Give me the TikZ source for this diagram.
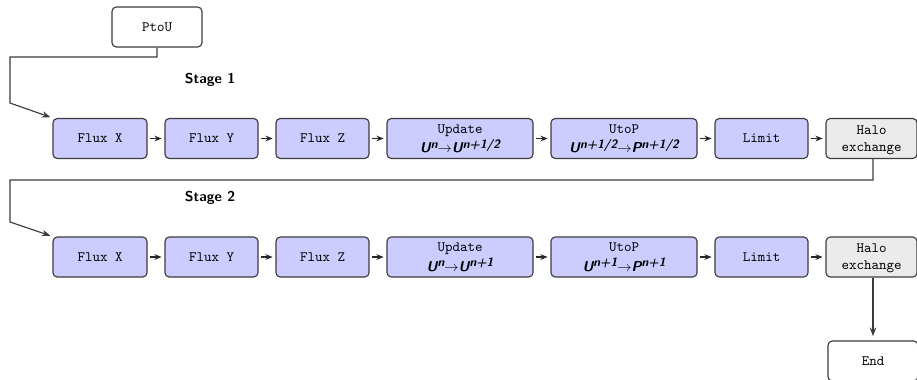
\documentclass[tikz,border=0pt]{standalone}
\usepackage{fontspec}
\usetikzlibrary{arrows.meta,positioning}
\definecolor{boxblue}{RGB}{204,204,255}
\definecolor{boxgray}{RGB}{235,235,235}
\definecolor{edgegray}{RGB}{60,60,60}
\newcommand\mv[1]{{\sffamily\bfseries\slshape #1}}
\newcommand\sups[1]{\raisebox{0.7ex}{\fontsize{8.5}{9}\selectfont\mv{#1}}}
\tikzset{
  base/.style={draw=edgegray, line width=0.8pt, rounded corners=3pt, font=\ttfamily,
    align=center, inner sep=0pt, minimum height=28pt, text depth=0pt},
  bluebox/.style={base, fill=boxblue, minimum width=#1*0.7pt},
  graybox/.style={base, fill=boxgray, minimum width=#1*0.7pt},
  whitebox/.style={base, fill=white, minimum width=#1*0.7pt},
  flow/.style={-{Stealth[length=5pt,width=4pt]}, line width=0.8pt, draw=black!85, shorten >=2pt, shorten <=2pt},
  link/.style={-{Stealth[length=6pt,width=4.5pt]}, line width=0.8pt, draw=edgegray},
  stagelabel/.style={font=\sffamily\bfseries}
}
\begin{document}
\begin{tikzpicture}[x=0.7pt, y=-0.7pt]
\useasboundingbox (0,0) rectangle (917,379);
% top
\node[whitebox=90] (ptou) at (157,27) {PtoU};
\node[stagelabel] (s1) at (210,80) {Stage 1};
\node[stagelabel] (s2) at (210,198) {Stage 2};
% row 1
\node[bluebox=94] (fx1) at (100,138.5) {Flux X};
\node[bluebox=93] (fy1) at (211.5,138.5) {Flux Y};
\node[bluebox=93] (fz1) at (322.5,138.5) {Flux Z};
\node[bluebox=146] (up1) at (460,138.5) {Update\\[1.5pt]\mv{U}\sups{n}$\rightarrow$\mv{U}\sups{n+1/2}};
\node[bluebox=146] (ut1) at (624,138.5) {UtoP\\[1.5pt]\mv{U}\sups{n+1/2}$\rightarrow$\mv{P}\sups{n+1/2}};
\node[bluebox=93] (li1) at (761.5,138.5) {Limit};
\node[graybox=91] (ha1) at (871.5,138.5) {Halo\\exchange};
% row 2
\node[bluebox=94] (fx2) at (100,257) {Flux X};
\node[bluebox=93] (fy2) at (211.5,257) {Flux Y};
\node[bluebox=93] (fz2) at (322.5,257) {Flux Z};
\node[bluebox=146] (up2) at (460,257) {Update\\[1.5pt]\mv{U}\sups{n}$\rightarrow$\mv{U}\sups{n+1}};
\node[bluebox=146] (ut2) at (624,257) {UtoP\\[1.5pt]\mv{U}\sups{n+1}$\rightarrow$\mv{P}\sups{n+1}};
\node[bluebox=93] (li2) at (761.5,257) {Limit};
\node[graybox=91] (ha2) at (871.5,257) {Halo\\exchange};
% end
\node[whitebox=90] (end) at (873,361) {End};
% coordinates
\coordinate (c1a) at (157,57);
\coordinate (c1b) at (10,57);
\coordinate (c1c) at (10,103);
\coordinate (c2a) at (873,180);
\coordinate (c2b) at (10,180);
\coordinate (c2c) at (10,222);
% flow arrows
\foreach \a/\b in {fx1/fy1,fy1/fz1,fz1/up1,up1/ut1,ut1/li1,li1/ha1,fx2/fy2,fy2/fz2,fz2/up2,up2/ut2,ut2/li2,li2/ha2}
  \draw[flow] (\a.east) -- (\b.west);
% links
\draw[link, shorten >=1.5pt] (ptou.south) -- (c1a) -- (c1b) -- (c1c) -- (fx1.north west);
\draw[link, shorten >=1.5pt] (ha1.south -| c2a) -- (c2a) -- (c2b) -- (c2c) -- (fx2.north west);
\draw[link, shorten >=3pt] (ha2.south -| end.north) -- (end.north);
\end{tikzpicture}
\end{document}
